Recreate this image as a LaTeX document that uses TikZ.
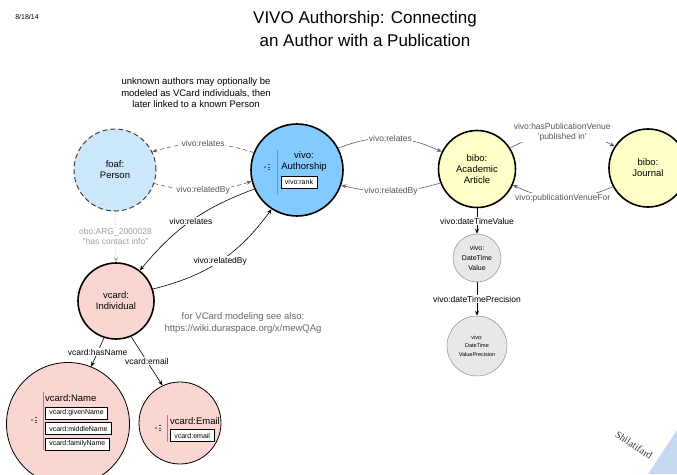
\documentclass[tikz,border=0pt]{standalone}
\usepackage{fontspec}
\setmainfont{Liberation Sans}
\newfontfamily\serifwm{Liberation Serif}
\usetikzlibrary{arrows.meta}
\definecolor{personfill}{RGB}{204,230,250}
\definecolor{authfill}{RGB}{130,202,255}
\definecolor{bibofill}{RGB}{255,255,200}
\definecolor{vcardfill}{RGB}{250,214,210}
\definecolor{dtfill}{RGB}{232,232,232}
\definecolor{edgegray}{RGB}{95,95,95}
\definecolor{labelgray}{RGB}{85,85,85}
\definecolor{lightgraytxt}{RGB}{160,160,160}
\definecolor{wmblue}{RGB}{197,217,238}
\newcommand{\menuicon}[2]{%
  \fill[black!80] (#1,#2) circle (0.9pt);
  \fill[black!70] (#1+3.2,#2+2.8) rectangle (#1+5,#2+2);
  \fill[black!70] (#1+3.2,#2+0.4) rectangle (#1+5,#2-0.4);
  \fill[black!70] (#1+3.2,#2-2) rectangle (#1+5,#2-2.8);}
\begin{document}
\begin{tikzpicture}[x=1pt,y=1pt,
  every node/.style={inner sep=0pt},
  cls/.style={circle, draw=black, line width=1.6pt, align=center,
    font=\fontsize{9.5}{11}\selectfont},
  elabel/.style={font=\fontsize{8.5}{10}\selectfont, fill=white, inner sep=1pt, align=center},
  arr/.style={-{Stealth[length=5pt,width=4pt]}, line width=0.6pt},
  dashedge/.style={dash pattern=on 4pt off 3pt},
  propbox/.style={draw=black, line width=0.5pt, fill=white, inner xsep=4pt, inner ysep=1.5pt,
    font=\fontsize{7}{8}\selectfont, anchor=west, minimum height=12pt},
  sepline/.style={draw=black!45, line width=0.8pt},
  notetxt/.style={font=\fontsize{9.5}{11.5}\selectfont, align=center},
]
\useasboundingbox (0,0) rectangle (677,-474);
\clip (0,0) rectangle (677,-474);

% header
\node[font=\fontsize{7}{8}\selectfont] (date) at (27,-17) {8/18/14};
\node[font=\fontsize{17}{23}\selectfont, align=center] (title) at (365,-28.5)
  {VIVO Authorship: Connecting\\an Author with a Publication};
\node[notetxt] (note1) at (196,-93)
  {unknown authors may optionally be\\modeled as VCard individuals, then\\later linked to a known Person};
\node[notetxt, text=black!60] (note2) at (243,-323)
  {for VCard modeling see also:\\https://wiki.duraspace.org/x/mewQAg};

% nodes
\node[cls, dash pattern=on 5pt off 3pt, draw=black!75, line width=1pt, fill=personfill, minimum size=82pt] (person) at (115,-170) {foaf:\\Person};
\node[cls, fill=authfill, minimum size=92pt] (auth) at (297,-170) {};
\node[font=\fontsize{9.5}{11}\selectfont, align=center] (authname) at (304,-162) {vivo:\\Authorship};
\node[propbox, anchor=center] (rank) at (299,-182) {vivo:rank};
\draw[sepline] (277,-150) -- (277,-195);
\menuicon{265}{-167}

\node[cls, fill=bibofill, minimum size=77pt] (article) at (477,-169) {bibo:\\Academic\\Article};
\node[cls, fill=bibofill, minimum size=78pt] (journal) at (648,-168) {bibo:\\Journal};

\node[circle, draw=black!45, line width=0.5pt, fill=dtfill, minimum size=48pt, align=center,
  font=\fontsize{7}{10}\selectfont] (dtv) at (477,-258) {vivo:\\DateTime\\Value};
\node[circle, draw=black!45, line width=0.5pt, fill=dtfill, minimum size=60pt, align=center,
  font=\fontsize{5.5}{8.5}\selectfont] (dtvp) at (477,-346) {vivo:\\DateTime\\ValuePrecision};

\node[cls, fill=vcardfill, minimum size=76pt] (indiv) at (116,-301) {vcard:\\Individual};

\node[circle, draw=black, line width=0.8pt, fill=vcardfill, minimum size=123pt] (name) at (68,-424) {};
\draw[sepline] (43,-392) -- (43,-450);
\menuicon{32}{-420}
\node[font=\fontsize{9.5}{11}\selectfont, anchor=west] (nametitle) at (45,-398) {vcard:Name};
\node[propbox] (given) at (45,-413) {vcard:givenName};
\node[propbox] (middle) at (45,-428.5) {vcard:middleName};
\node[propbox] (family) at (45,-444) {vcard:familyName};

\node[circle, draw=black, line width=0.8pt, fill=vcardfill, minimum size=82pt] (email) at (180,-423) {};
\draw[sepline] (167,-415) -- (167,-442);
\menuicon{156}{-428}
\node[font=\fontsize{9.5}{11}\selectfont, anchor=west] (emailtitle) at (170,-421) {vcard:Email};
\node[propbox] (emailbox) at (170,-435.5) {vcard:email};

% connectors
\draw[arr, dashedge, draw=edgegray] (auth.158) to[bend right=17]
  node[elabel, text=labelgray] {vivo:relates} (person.26);
\draw[arr, dashedge, draw=edgegray] (person.-19) to[bend right=16]
  node[elabel, text=labelgray] {vivo:relatedBy} (auth.194);

\draw[arr, draw=edgegray] (auth.28) to[bend left=23]
  node[elabel, text=labelgray] {vivo:relates} (article.154);
\draw[arr, draw=edgegray] (article.201) to[bend left=15]
  node[elabel, text=labelgray] {vivo:relatedBy} (auth.-19);

\draw[arr, draw=edgegray] (article.32) to[bend left=29]
  node[elabel, text=labelgray] {vivo:hasPublicationVenue\\'published in'} (journal.147);
\draw[arr, draw=edgegray] (journal.208) to[bend left=25]
  node[elabel, text=labelgray] {vivo:publicationVenueFor} (article.-24);

\draw[arr, dotted, draw=black!35, line width=0.8pt] (person.south) --
  node[elabel, text=lightgraytxt] {obo:ARG\_2000028\\"has contact info"} (indiv.north);

\draw[arr] (auth.204) to[bend right=15] node[elabel] {vivo:relates} (indiv.52);
\draw[arr] (indiv.18) to[bend right=20] node[elabel] {vivo:relatedBy} (auth.237);

\draw[arr] (indiv.252) -- node[elabel] {vcard:hasName} (name.68);
\draw[arr] (indiv.293) -- node[elabel] {vcard:email} (email.115);

\draw[arr] (article.south) -- node[elabel] {vivo:dateTimeValue} (dtv.north);
\draw[arr] (dtv.south) -- node[elabel] {vivo:dateTimePrecision} (dtvp.north);

% watermark
\fill[wmblue] (648,-474) -- (677,-430) -- (677,-474) -- cycle;
\node[font=\serifwm\fontsize{10}{11}\selectfont, rotate=-34, text=black!80] (wm) at (634,-445) {Shilatifard};
\end{tikzpicture}
\end{document}
